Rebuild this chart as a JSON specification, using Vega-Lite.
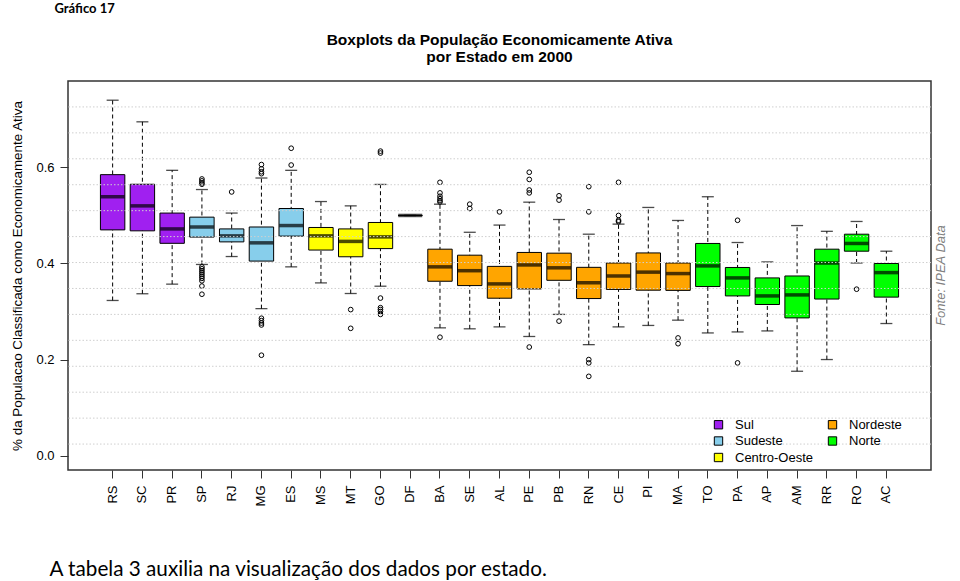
{
  "$schema": "https://vega.github.io/schema/vega-lite/v6.json",
  "width": 863,
  "height": 389,
  "autosize": {"type": "none"},
  "padding": {"left": 68, "top": 81, "right": 29, "bottom": 111},
  "background": "white",
  "config": {
    "font": "Liberation Sans",
    "view": {"stroke": "#333333", "strokeWidth": 1.5},
    "axis": {"labelColor": "black", "tickColor": "#333333", "titleColor": "black", "labelFont": "Liberation Sans", "titleFont": "Liberation Sans"}
  },
  "title": {
    "text": ["Boxplots da População Economicamente Ativa", "por Estado em 2000"],
    "anchor": "middle",
    "frame": "group",
    "font": "Liberation Sans",
    "fontSize": 15.5,
    "fontWeight": "bold",
    "color": "black",
    "lineHeight": 17,
    "offset": 18,
    "dy": 81
  },
  "datasets": {
    "boxes": [
      {"state": "RS", "region": "Sul", "lo": 0.323, "q1": 0.470, "med": 0.539, "q3": 0.585, "hi": 0.740},
      {"state": "SC", "region": "Sul", "lo": 0.337, "q1": 0.468, "med": 0.520, "q3": 0.565, "hi": 0.695},
      {"state": "PR", "region": "Sul", "lo": 0.357, "q1": 0.442, "med": 0.472, "q3": 0.505, "hi": 0.594},
      {"state": "SP", "region": "Sudeste", "lo": 0.398, "q1": 0.455, "med": 0.476, "q3": 0.4965, "hi": 0.554},
      {"state": "RJ", "region": "Sudeste", "lo": 0.4145, "q1": 0.445, "med": 0.4575, "q3": 0.472, "hi": 0.505},
      {"state": "MG", "region": "Sudeste", "lo": 0.306, "q1": 0.405, "med": 0.443, "q3": 0.476, "hi": 0.578},
      {"state": "ES", "region": "Sudeste", "lo": 0.393, "q1": 0.457, "med": 0.479, "q3": 0.5145, "hi": 0.594},
      {"state": "MS", "region": "Centro-Oeste", "lo": 0.3596, "q1": 0.428, "med": 0.4575, "q3": 0.475, "hi": 0.529},
      {"state": "MT", "region": "Centro-Oeste", "lo": 0.3375, "q1": 0.414, "med": 0.446, "q3": 0.472, "hi": 0.520},
      {"state": "GO", "region": "Centro-Oeste", "lo": 0.3527, "q1": 0.431, "med": 0.4554, "q3": 0.4854, "hi": 0.5646},
      {"state": "DF", "region": "Centro-Oeste", "lo": 0.500, "q1": 0.500, "med": 0.500, "q3": 0.500, "hi": 0.500},
      {"state": "BA", "region": "Nordeste", "lo": 0.266, "q1": 0.363, "med": 0.393, "q3": 0.4298, "hi": 0.5235},
      {"state": "SE", "region": "Nordeste", "lo": 0.264, "q1": 0.354, "med": 0.385, "q3": 0.4173, "hi": 0.465},
      {"state": "AL", "region": "Nordeste", "lo": 0.268, "q1": 0.3277, "med": 0.3575, "q3": 0.394, "hi": 0.480},
      {"state": "PE", "region": "Nordeste", "lo": 0.248, "q1": 0.347, "med": 0.397, "q3": 0.423, "hi": 0.5277},
      {"state": "PB", "region": "Nordeste", "lo": 0.294, "q1": 0.365, "med": 0.391, "q3": 0.4215, "hi": 0.4916},
      {"state": "RN", "region": "Nordeste", "lo": 0.231, "q1": 0.327, "med": 0.360, "q3": 0.392, "hi": 0.461},
      {"state": "CE", "region": "Nordeste", "lo": 0.268, "q1": 0.346, "med": 0.374, "q3": 0.401, "hi": 0.482},
      {"state": "PI", "region": "Nordeste", "lo": 0.271, "q1": 0.3444, "med": 0.382, "q3": 0.422, "hi": 0.5167},
      {"state": "MA", "region": "Nordeste", "lo": 0.282, "q1": 0.344, "med": 0.379, "q3": 0.401, "hi": 0.4896},
      {"state": "TO", "region": "Norte", "lo": 0.2554, "q1": 0.352, "med": 0.395, "q3": 0.4417, "hi": 0.539},
      {"state": "PA", "region": "Norte", "lo": 0.2575, "q1": 0.3325, "med": 0.370, "q3": 0.3917, "hi": 0.4437},
      {"state": "AP", "region": "Norte", "lo": 0.2596, "q1": 0.3146, "med": 0.3325, "q3": 0.370, "hi": 0.4033},
      {"state": "AM", "region": "Norte", "lo": 0.1756, "q1": 0.2867, "med": 0.3346, "q3": 0.374, "hi": 0.479},
      {"state": "RR", "region": "Norte", "lo": 0.200, "q1": 0.326, "med": 0.401, "q3": 0.4298, "hi": 0.467},
      {"state": "RO", "region": "Norte", "lo": 0.401, "q1": 0.4256, "med": 0.4417, "q3": 0.461, "hi": 0.4875},
      {"state": "AC", "region": "Norte", "lo": 0.275, "q1": 0.330, "med": 0.381, "q3": 0.400, "hi": 0.4256}
    ],
    "outliers": [
      {"state": "SP", "v": 0.576}, {"state": "SP", "v": 0.572}, {"state": "SP", "v": 0.568}, {"state": "SP", "v": 0.565},
      {"state": "SP", "v": 0.393}, {"state": "SP", "v": 0.389}, {"state": "SP", "v": 0.385}, {"state": "SP", "v": 0.381},
      {"state": "SP", "v": 0.377}, {"state": "SP", "v": 0.373}, {"state": "SP", "v": 0.369}, {"state": "SP", "v": 0.364},
      {"state": "SP", "v": 0.353}, {"state": "SP", "v": 0.336},
      {"state": "RJ", "v": 0.549},
      {"state": "MG", "v": 0.606}, {"state": "MG", "v": 0.597}, {"state": "MG", "v": 0.591}, {"state": "MG", "v": 0.587},
      {"state": "MG", "v": 0.286}, {"state": "MG", "v": 0.281}, {"state": "MG", "v": 0.276}, {"state": "MG", "v": 0.272}, {"state": "MG", "v": 0.209},
      {"state": "ES", "v": 0.640}, {"state": "ES", "v": 0.605},
      {"state": "MT", "v": 0.304}, {"state": "MT", "v": 0.265},
      {"state": "GO", "v": 0.634}, {"state": "GO", "v": 0.630}, {"state": "GO", "v": 0.328}, {"state": "GO", "v": 0.308},
      {"state": "GO", "v": 0.304}, {"state": "GO", "v": 0.300}, {"state": "GO", "v": 0.294},
      {"state": "BA", "v": 0.569}, {"state": "BA", "v": 0.547}, {"state": "BA", "v": 0.540}, {"state": "BA", "v": 0.535},
      {"state": "BA", "v": 0.531}, {"state": "BA", "v": 0.528}, {"state": "BA", "v": 0.2465},
      {"state": "SE", "v": 0.5235}, {"state": "SE", "v": 0.5145},
      {"state": "AL", "v": 0.5075},
      {"state": "PE", "v": 0.590}, {"state": "PE", "v": 0.575}, {"state": "PE", "v": 0.553}, {"state": "PE", "v": 0.547}, {"state": "PE", "v": 0.226},
      {"state": "PB", "v": 0.541}, {"state": "PB", "v": 0.532}, {"state": "PB", "v": 0.280},
      {"state": "RN", "v": 0.560}, {"state": "RN", "v": 0.5075}, {"state": "RN", "v": 0.200}, {"state": "RN", "v": 0.193}, {"state": "RN", "v": 0.165},
      {"state": "CE", "v": 0.569}, {"state": "CE", "v": 0.500}, {"state": "CE", "v": 0.490}, {"state": "CE", "v": 0.487},
      {"state": "MA", "v": 0.245}, {"state": "MA", "v": 0.233},
      {"state": "PA", "v": 0.490}, {"state": "PA", "v": 0.193},
      {"state": "RO", "v": 0.3465}
    ],
    "grid": [
      {"g": 0.024}, {"g": 0.078}, {"g": 0.132}, {"g": 0.186}, {"g": 0.240}, {"g": 0.294}, {"g": 0.348},
      {"g": 0.402}, {"g": 0.456}, {"g": 0.510}, {"g": 0.564}, {"g": 0.618}, {"g": 0.672}, {"g": 0.726}
    ]
  },
  "resolve": {"axis": {"x": "independent", "y": "independent"}},
  "layer": [
    {
      "data": {"name": "boxes"},
      "mark": {"type": "rule", "color": "black", "strokeWidth": 1, "strokeDash": [4, 3]},
      "encoding": {
        "x": {
          "field": "state", "type": "nominal",
          "scale": {"type": "band", "domain": ["RS","SC","PR","SP","RJ","MG","ES","MS","MT","GO","DF","BA","SE","AL","PE","PB","RN","CE","PI","MA","TO","PA","AP","AM","RR","RO","AC"], "paddingInner": 0, "paddingOuter": 1.08},
          "axis": {
            "orient": "bottom", "labelAngle": 270, "labelAlign": "right", "labelBaseline": "middle",
            "labelFontSize": 13, "labelPadding": 7, "tickSize": 8, "domain": false, "grid": false,
            "title": "A tabela 3 auxilia na visualização dos dados por estado.",
            "titleX": -19, "titleY": 105, "titleAlign": "left", "titleAnchor": "start", "titleAngle": 0,
            "titleBaseline": "alphabetic", "titleFont": "Lato", "titleFontSize": 20.7, "titleFontWeight": "normal"
          }
        },
        "y": {
          "field": "lo", "type": "quantitative",
          "scale": {"domain": [-0.03, 0.78], "nice": false, "zero": false},
          "axis": {
            "orient": "left", "values": [0, 0.2, 0.4, 0.6], "format": ".1f", "labelAngle": 0,
            "labelFontSize": 13, "tickSize": 8, "labelPadding": 6, "domain": false, "grid": false,
            "title": "% da Populacao Classificada como Economicamente Ativa",
            "titleFontSize": 13.4, "titleFontWeight": "normal", "titlePadding": 11
          }
        },
        "y2": {"field": "hi"}
      }
    },
    {
      "data": {"name": "boxes"},
      "mark": {"type": "tick", "color": "black", "size": 12, "thickness": 1.3},
      "encoding": {
        "x": {"field": "state", "type": "nominal", "axis": null},
        "y": {"field": "lo", "type": "quantitative", "scale": {"domain": [-0.03, 0.78], "nice": false, "zero": false}, "axis": null}
      }
    },
    {
      "data": {"name": "boxes"},
      "mark": {"type": "tick", "color": "black", "size": 12, "thickness": 1.3},
      "encoding": {
        "x": {"field": "state", "type": "nominal", "axis": null},
        "y": {"field": "hi", "type": "quantitative", "axis": null}
      }
    },
    {
      "data": {"name": "boxes"},
      "mark": {"type": "bar", "stroke": "black", "strokeWidth": 1, "width": {"band": 0.82}},
      "encoding": {
        "x": {"field": "state", "type": "nominal", "axis": null},
        "y": {"field": "q1", "type": "quantitative", "axis": null},
        "y2": {"field": "q3"},
        "color": {
          "field": "region", "type": "nominal",
          "scale": {"domain": ["Sul", "Sudeste", "Centro-Oeste", "Nordeste", "Norte"], "range": ["#a020f0", "#87ceeb", "#ffff00", "#ffa500", "#00ff00"]},
          "legend": {
            "title": null, "orient": "none", "legendX": 644, "legendY": 337, "columns": 2,
            "symbolType": "square", "symbolSize": 70, "symbolStrokeColor": "black", "symbolStrokeWidth": 1,
            "labelFontSize": 13, "labelFont": "Liberation Sans", "labelColor": "black", "labelOffset": 10,
            "rowPadding": 2.5, "columnPadding": 12
          }
        }
      }
    },
    {
      "data": {"name": "boxes"},
      "mark": {"type": "tick", "color": "black", "size": 24, "thickness": 3.5},
      "encoding": {
        "x": {"field": "state", "type": "nominal", "axis": null},
        "y": {"field": "med", "type": "quantitative", "axis": null}
      }
    },
    {
      "data": {"name": "outliers"},
      "mark": {"type": "point", "shape": "circle", "filled": false, "stroke": "black", "strokeWidth": 1, "size": 22, "opacity": 1},
      "encoding": {
        "x": {
          "field": "state", "type": "nominal",
          "axis": {
            "orient": "top", "labels": false, "ticks": false, "domain": false, "grid": false,
            "title": "Gráfico 17", "titleX": -14, "titleY": -69, "titleAlign": "left", "titleAnchor": "start",
            "titleBaseline": "alphabetic", "titleFont": "Lato", "titleFontSize": 13, "titleFontWeight": "bold"
          }
        },
        "y": {"field": "v", "type": "quantitative", "axis": null}
      }
    },
    {
      "data": {"name": "grid"},
      "mark": {"type": "rule", "color": "#cfcfcf", "strokeWidth": 1, "strokeDash": [1.5, 2]},
      "encoding": {
        "y": {
          "field": "g", "type": "quantitative",
          "axis": {
            "orient": "right", "labels": false, "ticks": false, "domain": false, "grid": false,
            "title": "Fonte: IPEA Data", "titleX": 13, "titleY": 194, "titleAngle": 270, "titleAlign": "center",
            "titleBaseline": "alphabetic", "titleFontSize": 13, "titleFontStyle": "italic", "titleFontWeight": "normal",
            "titleColor": "#808080"
          }
        }
      }
    }
  ]
}
